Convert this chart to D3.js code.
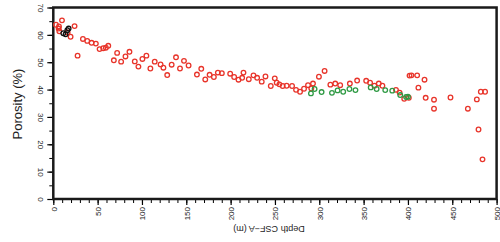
<!DOCTYPE html>
<html>
<head>
<meta charset="utf-8">
<script src="https://cdn.jsdelivr.net/npm/d3@7"></script>
<style>
  body { margin: 0; background: #fff; }
  text { font-family: "Liberation Sans", Arial, sans-serif; fill: #222; }
</style>
</head>
<body>
<svg id="chart" width="500" height="242"></svg>
<script>
// depth (m), porosity (%)
const redPoints = [
  [3,63.7],[6.4,63.1],[9.8,65.3],[6,62.3],[6.8,61.3],[16.2,60.9],[19.5,59.3],[24,63.2],[27.4,52.4],
  [33.4,58.5],[38.3,57.8],[43.2,57.1],[48,56.8],[52.2,54.8],[56.3,55.1],[59.3,55.3],[62,56],
  [68.3,50.7],[72,53.4],[76.5,50.2],[81.4,52.1],[85.9,53.8],[91.9,50.3],[96,48.4],[100.5,51.2],
  [105,52.4],[109.5,47.7],[114.4,50.2],[121,49.2],[124.2,48],[128.5,45.3],[133.5,49.1],[138.4,51.8],
  [142.9,47.7],[147.4,50.5],[152.6,48.8],[162,45.5],[166.9,47.6],[171.4,43.7],[176.3,45.4],
  [181.1,44.6],[185.6,46.2],[190.1,46],[199.5,45.8],[204,44.6],[208.9,43.6],[213,44.3],[214.5,46.2],
  [220.5,43.8],[225.8,45.2],[229.9,44.3],[235.1,42.9],[239.3,44.8],[245.3,41.3],[249.8,44.1],
  [252,42.5],[255,41.9],[258.7,41.3],[263.2,41.4],[269.3,41.3],[273.8,39.9],[278.3,39.2],
  [282.8,40.3],[287.3,41.6],[291,40.4],[292.9,42.2],[299.6,44.7],[306,46.8],[312.5,41.8],
  [318,42.2],[323.6,41.6],[334.5,42.2],[342.7,43.3],[352.9,43.2],[357.3,42.5],[362.2,41.4],
  [367.1,42.2],[371.2,41.4],[386.5,39.9],[390.6,38.9],[395.8,36.6],[401,37],[401.8,45.1],
  [404,45.2],[410.4,45.2],[418.7,43.6],[411.8,40.7],[420,37],[429.4,36.3],[429.4,33],[448,37.1],
  [467.6,33],[477.7,36.4],[482.2,39.2],[487,39.2],[479.6,25.4],[484.1,14.5]
]
const greenPoints = [
  [290.6,38.6],[294.7,40.2],[302.6,39.1],[314.3,38.8],[320.6,39.7],[327,39.2],[334,40.2],
  [340.8,39.8],[358,40.8],[364.7,40.2],[374.4,39.8],[382.3,39.6],[391.3,38],[398,37.3],[400,37.4]
]
const blackPoints = [[11.3,60.6],[13.9,60.2],[15.8,61.7],[17.3,62.3]]

const xTicks = [0, 50, 100, 150, 200, 250, 300, 350, 400, 450, 500]
const yTicks = [0, 10, 20, 30, 40, 50, 60, 70]

const svg = d3.select("#chart")
const x = d3.scaleLinear().domain([0, 500]).range([53.3, 496.6])
const y = d3.scaleLinear().domain([0, 70]).range([199, 7.5])

// minor ticks
svg.append("g")
  .attr("transform", `translate(0,${y(0)})`)
  .call(d3.axisBottom(x).tickValues(d3.range(0, 501, 10)).tickSize(4).tickFormat(""))
  .call(g => g.select(".domain").remove())
svg.append("g")
  .attr("transform", `translate(${x(0)},0)`)
  .call(d3.axisLeft(y).tickValues(d3.range(0, 71, 5)).tickSize(4).tickFormat(""))
  .call(g => g.select(".domain").remove())

// major ticks
const xAxis = svg.append("g")
  .attr("transform", `translate(0,${y(0)})`)
  .call(d3.axisBottom(x).tickValues(xTicks).tickSize(6).tickSizeOuter(0))
xAxis.selectAll(".tick line").attr("stroke-width", 1.2)
xAxis.selectAll(".tick text")
  .attr("font-size", 8)
  .attr("transform", "translate(0,8) rotate(-90)")
  .attr("x", 0).attr("y", 0).attr("dy", "0.35em")
  .attr("text-anchor", "end")

const yAxis = svg.append("g")
  .attr("transform", `translate(${x(0)},0)`)
  .call(d3.axisLeft(y).tickValues(yTicks).tickSize(6).tickSizeOuter(0))
yAxis.selectAll(".tick line").attr("stroke-width", 1.2)
yAxis.selectAll(".tick text")
  .attr("font-size", 8)
  .attr("transform", "translate(-15,0) rotate(90)")
  .attr("x", 0).attr("y", 0).attr("dy", 0)
  .attr("text-anchor", "middle")

svg.selectAll(".domain").remove()

// frame
svg.append("rect")
  .attr("x", x(0)).attr("y", y(70))
  .attr("width", x(500) - x(0)).attr("height", y(0) - y(70))
  .attr("fill", "none").attr("stroke", "#1a1a1a").attr("stroke-width", 2.5)

function drawPoints(data, color) {
  svg.append("g").selectAll("circle")
    .data(data)
    .join("circle")
    .attr("cx", d => x(d[0]))
    .attr("cy", d => y(d[1]))
    .attr("r", 2.3)
    .attr("fill", "none")
    .attr("stroke", color)
    .attr("stroke-width", 1.3)
}
drawPoints(redPoints, "#e8342a")
drawPoints(greenPoints, "#2f9a44")
drawPoints(blackPoints, "#111")

// titles
svg.append("text")
  .attr("transform", "translate(17,104) rotate(-90)")
  .attr("text-anchor", "middle")
  .attr("dominant-baseline", "central")
  .attr("font-size", 13)
  .text("Porosity (%)")

svg.append("text")
  .attr("transform", "translate(269,229) rotate(180)")
  .attr("text-anchor", "middle")
  .attr("dominant-baseline", "central")
  .attr("font-size", 9)
  .text("Depth CSF−A (m)")
</script>
</body>
</html>
